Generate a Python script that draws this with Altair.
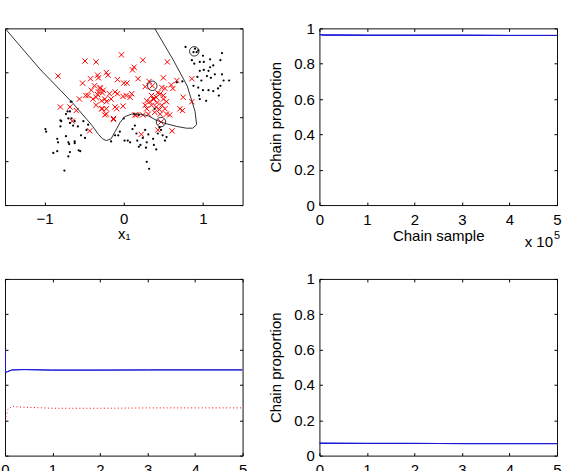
import altair as alt
import pandas as pd

FONT = "Liberation Sans"
FS = 15
W, H = 238, 177

# ---------------- scatter panel data ----------------
red_x = [-0.83, -0.49, -0.35, -0.03, 0.24, 0.13, 0.11, -0.22, -0.20, -0.33,
         -0.32, -0.42, -0.08, 0.18, 0.00, 0.36, 0.50, 0.55, 0.67, 0.86,
         0.32, 0.27, 0.60, 0.62, 0.48, 0.52,
         -0.37, -0.30, -0.26, -0.32, -0.41, -0.45, -0.35, -0.24, -0.22, -0.28,
         -0.39, -0.18, -0.11, -0.08, -0.16, -0.56, -0.48, -0.01, 0.03, 0.10,
         -0.11, -0.09, -0.01, -0.22, -0.28, -0.35, -0.24, -0.22, -0.13, -0.80,
         -0.68, -0.65, -0.60, -0.43, 0.14, 0.16, 0.24, 0.22, 0.43, 0.61,
         0.29, 0.33, 0.37, 0.41, 0.46, 0.50, 0.54, 0.35, 0.41, 0.48,
         0.52, 0.29, 0.27, 0.39, 0.46, 0.54, 0.58, 0.31, 0.35, 0.43,
         0.50, 0.75, 0.71, 0.74, 0.86, 0.47,
         -0.52, 0.04, -0.13, -0.27, 0.08, -0.30, -0.27, -0.33, 0.42, 0.38, 0.45]
red_y = [0.46, 0.63, 0.62, 0.70, 0.64, 0.56, 0.53, 0.50, 0.47, 0.47,
         0.44, 0.43, 0.42, 0.43, 0.38, 0.35, 0.44, 0.62, 0.41, 0.43,
         0.40, 0.34, 0.36, 0.32, 0.33, 0.32,
         0.35, 0.32, 0.30, 0.28, 0.30, 0.24, 0.22, 0.20, 0.17, 0.18,
         0.20, 0.26, 0.28, 0.26, 0.20, 0.20, 0.24, 0.23, 0.24, 0.26,
         0.11, 0.09, 0.12, 0.09, 0.09, 0.13, 0.02, 0.03, -0.03, 0.11,
         0.11, -0.05, 0.07, -0.16, 0.02, 0.02, 0.02, -0.20, -0.15, -0.16,
         0.18, 0.17, 0.20, 0.22, 0.26, 0.20, 0.17, 0.13, 0.11, 0.13,
         0.09, 0.09, 0.13, 0.05, 0.03, 0.03, 0.02, 0.03, 0.24, 0.27,
         0.24, 0.22, 0.09, 0.07, 0.17, -0.06,
         0.38, 0.38, -0.02, 0.09, 0.22, 0.33, 0.27, 0.25, 0.16, 0.20, 0.08]

black_x = [0.78, 0.90, 0.92, 0.86, 0.89, 0.96, 1.00, 1.09, 1.13, 1.22,
           1.24, 0.96, 1.01, 1.09, 0.93, 0.98, 1.05, 1.10, 1.15, 1.24,
           1.26, 1.33, 0.94, 1.00, 1.07, 1.13, 1.19, 1.22, 1.20, 1.04,
           0.95, 0.96, 0.88, 0.74, 0.67, 0.94, 0.88, 1.01, 1.07,
           -0.99, -0.98, -0.89, -0.84, -0.83, -0.84, -0.79, -0.80, -0.73, -0.70,
           -0.69, -0.68, -0.70, -0.75, -0.66, -0.68, -0.62, -0.64, -0.58, -0.57,
           -0.55, -0.62, -0.62, -0.54, -0.49, -0.47, -0.45, -0.51, -0.66, -0.73,
           -0.71, -0.68,
           -0.16, -0.11, -0.05, 0.01, 0.08, 0.11, 0.14, 0.16, 0.17, 0.19,
           0.21, 0.24, 0.27, 0.29, 0.28, 0.31, 0.37, 0.38, 0.41, 0.29,
           0.32, 0.43, 0.45, 0.47, 0.49, 0.54, 0.52, 0.05, 0.13, 0.19,
           0.39, -0.07, 0.00, -0.80, -0.70, -0.67]
black_y = [0.79, 0.77, 0.73, 0.64, 0.60, 0.62, 0.69, 0.65, 0.58, 0.64,
           0.72, 0.52, 0.53, 0.56, 0.45, 0.41, 0.46, 0.44, 0.48, 0.48,
           0.41, 0.41, 0.33, 0.30, 0.30, 0.29, 0.32, 0.35, 0.24, 0.18,
           0.24, 0.20, 0.35, 0.40, 0.39, 0.75, 0.73, 0.62, 0.52,
           -0.14, -0.17, -0.41, -0.39, -0.29, -0.25, -0.05, -0.11, -0.22, -0.29,
           -0.31, -0.40, -0.45, -0.61, -0.02, -0.07, -0.05, -0.10, -0.11, -0.38,
           -0.39, -0.28, -0.30, -0.21, -0.24, -0.15, -0.09, -0.05, 0.17, 0.03,
           0.06, 0.06,
           -0.28, -0.21, -0.17, -0.27, -0.29, -0.14, -0.10, -0.19, -0.27, -0.34,
           -0.32, -0.24, -0.15, -0.29, -0.35, -0.20, -0.25, -0.32, -0.37, -0.51,
           -0.59, -0.19, -0.12, -0.15, -0.21, -0.23, -0.27, -0.27, 0.03, 0.02,
           0.09, -0.21, -0.02, -0.04, -0.02, 0.17]

sv_x = [0.89, 0.36, 0.47]
sv_y = [0.74, 0.35, -0.06]

bound_x = [-1.50, -1.06, -0.65, -0.40, -0.32, -0.27, -0.22, -0.16, -0.11, -0.05,
           0.01, 0.10, 0.20, 0.31, 0.41, 0.54, 0.67, 0.79, 0.87, 0.92,
           0.90, 0.80, 0.62, 0.39]
bound_y = [1.00, 0.54, 0.16, -0.10, -0.20, -0.25, -0.27, -0.25, -0.17, -0.07,
           0.00, 0.03, 0.03, 0.01, -0.04, -0.08, -0.11, -0.13, -0.13, -0.09,
           0.06, 0.35, 0.65, 1.00]

# ---------------- chain panels data (x in units of 10^5) ----------------
tr_s = [0, 0.1, 0.5, 1, 2, 3, 4, 5]
tr_p = [0.965, 0.962, 0.962, 0.961, 0.961, 0.961, 0.960, 0.960]

bl_blue_s = [0, 0.01, 0.05, 0.15, 0.4, 1, 2, 3, 4, 5]
bl_blue_p = [0.60, 0.47, 0.475, 0.485, 0.487, 0.484, 0.484, 0.485, 0.485, 0.485]
bl_red_s = [0, 0.02, 0.06, 0.15, 0.3, 1, 2, 3, 4, 5]
bl_red_p = [0.20, 0.22, 0.26, 0.28, 0.275, 0.268, 0.268, 0.27, 0.27, 0.27]

br_s = [0, 1, 2, 3, 4, 5]
br_p = [0.070, 0.069, 0.069, 0.068, 0.068, 0.068]

CHAIN_XT = [0, 1, 2, 3, 4, 5]
CHAIN_YT = [0, 0.2, 0.4, 0.6, 0.8, 1]
SC_XT = [-1, 0, 1]
SC_YT = [-1, -0.5, 0, 0.5, 1]


def lab_axis(orient, values, labels=True, title=None, lp=6, tp=2):
    kw = dict(orient=orient, values=values, labels=labels, ticks=False, tickSize=0,
              domain=False, grid=False, labelFont=FONT, labelFontSize=FS,
              labelColor="black", labelPadding=lp, labelFlush=False,
              labelOverlap=False, format="~g")
    if title is not None:
        kw.update(title=title, titleFont=FONT, titleFontSize=FS,
                  titleFontWeight="normal", titleColor="black", titlePadding=tp)
    else:
        kw["title"] = None
    return alt.Axis(**kw)


def tick_axis(orient, values):
    return alt.Axis(orient=orient, values=values, labels=False, domain=False,
                    grid=False, ticks=True, tickSize=3, tickColor="black",
                    tickWidth=1, offset=-3, title=None)


# ---------------- top-left scatter ----------------
sx = alt.Scale(domain=[-1.5, 1.5], nice=False, zero=False)
sy = alt.Scale(domain=[-1, 1], nice=False, zero=False)

red_df = pd.DataFrame({"x": red_x, "y": red_y})
blk_df = pd.DataFrame({"x": black_x, "y": black_y})
sv_df = pd.DataFrame({"x": sv_x, "y": sv_y})
bd_df = pd.DataFrame({"x": bound_x, "y": bound_y, "i": list(range(len(bound_x)))})

xshape = "M-1,-1L1,1M-1,1L1,-1"
l_red = alt.Chart(red_df).mark_point(shape=xshape, size=28, filled=False,
                                     color="#ff0000", strokeWidth=1, opacity=1).encode(
    x=alt.X("x:Q", scale=sx, axis=lab_axis("bottom", SC_XT, title="x₁", tp=1)),
    y=alt.Y("y:Q", scale=sy, axis=lab_axis("left", SC_YT, labels=False)),
)
l_blk = alt.Chart(blk_df).mark_circle(size=5, color="black", opacity=1).encode(
    x=alt.X("x:Q", scale=sx, axis=tick_axis("bottom", SC_XT)),
    y=alt.Y("y:Q", scale=sy, axis=tick_axis("left", SC_YT)),
)
l_bd = alt.Chart(bd_df).mark_line(color="#333333", strokeWidth=1, clip=True).encode(
    x=alt.X("x:Q", scale=sx, axis=tick_axis("top", SC_XT)),
    y=alt.Y("y:Q", scale=sy, axis=tick_axis("right", SC_YT)),
    order="i:Q",
)
l_sv = alt.Chart(sv_df).mark_point(shape="circle", size=90, filled=False,
                                   color="black", strokeWidth=0.8, opacity=1).encode(
    x=alt.X("x:Q", scale=sx, axis=None),
    y=alt.Y("y:Q", scale=sy, axis=None),
)
top_left = alt.layer(l_red, l_blk, l_bd, l_sv).resolve_axis(
    x="independent", y="independent").properties(width=W, height=H)

# ---------------- chain panels ----------------
cx = alt.Scale(domain=[0, 5], nice=False, zero=False)
cy = alt.Scale(domain=[0, 1], nice=False, zero=False)
BLUE = "#1a1ad6"


def line(df, color, xaxis, yaxis, dash=None, opacity=1.0):
    mk = dict(color=color, strokeWidth=1, clip=True, opacity=opacity)
    if dash is not None:
        mk["strokeDash"] = dash
    return alt.Chart(df).mark_line(**mk).encode(
        x=alt.X("s:Q", scale=cx, axis=xaxis),
        y=alt.Y("p:Q", scale=cy, axis=yaxis),
    )


def chain_panel(main_df, extra_df=None, ylabels=True, ytitle=None, xtitle=None, exp=False):
    layers = [
        line(main_df, BLUE,
             lab_axis("bottom", CHAIN_XT, title=xtitle, lp=7, tp=2),
             lab_axis("left", CHAIN_YT, labels=ylabels, title=ytitle, lp=5, tp=10)),
    ]
    if extra_df is not None:
        layers.append(line(extra_df, "#ff0000", tick_axis("bottom", CHAIN_XT),
                           tick_axis("left", CHAIN_YT), dash=[1, 2.5]))
    else:
        layers.append(line(main_df, BLUE, tick_axis("bottom", CHAIN_XT),
                           tick_axis("left", CHAIN_YT)))
    layers.append(line(main_df, BLUE, tick_axis("top", CHAIN_XT),
                       tick_axis("right", CHAIN_YT)))
    if exp:
        t1 = alt.Chart(pd.DataFrame({"t": ["x 10"]})).mark_text(
            font=FONT, fontSize=FS, align="right", baseline="alphabetic", color="black"
        ).encode(text="t:N", x=alt.value(W - 4), y=alt.value(H + 42))
        t2 = alt.Chart(pd.DataFrame({"t": ["5"]})).mark_text(
            font=FONT, fontSize=11, align="left", baseline="alphabetic", color="black"
        ).encode(text="t:N", x=alt.value(W - 3), y=alt.value(H + 34))
        layers += [t1, t2]
    return alt.layer(*layers).resolve_axis(
        x="independent", y="independent").properties(width=W, height=H)


tr_df = pd.DataFrame({"s": tr_s, "p": tr_p})
blb_df = pd.DataFrame({"s": bl_blue_s, "p": bl_blue_p})
blr_df = pd.DataFrame({"s": bl_red_s, "p": bl_red_p})
br_df = pd.DataFrame({"s": br_s, "p": br_p})

top_right = chain_panel(tr_df, ylabels=True, ytitle="Chain proportion",
                        xtitle="Chain sample", exp=True)
bottom_left = chain_panel(blb_df, extra_df=blr_df, ylabels=False)
bottom_right = chain_panel(br_df, ylabels=True, ytitle="Chain proportion")

chart = alt.concat(
    top_left, top_right, bottom_left, bottom_right,
    columns=2, spacing={"row": 74, "column": 77}, bounds="flush",
).properties(
    padding={"left": 0, "top": 20, "right": 0, "bottom": -5},
    background="white",
).configure_view(stroke="#111111", strokeWidth=1)

chart.save("out.html", embed_options={"renderer": "svg", "actions": False})
